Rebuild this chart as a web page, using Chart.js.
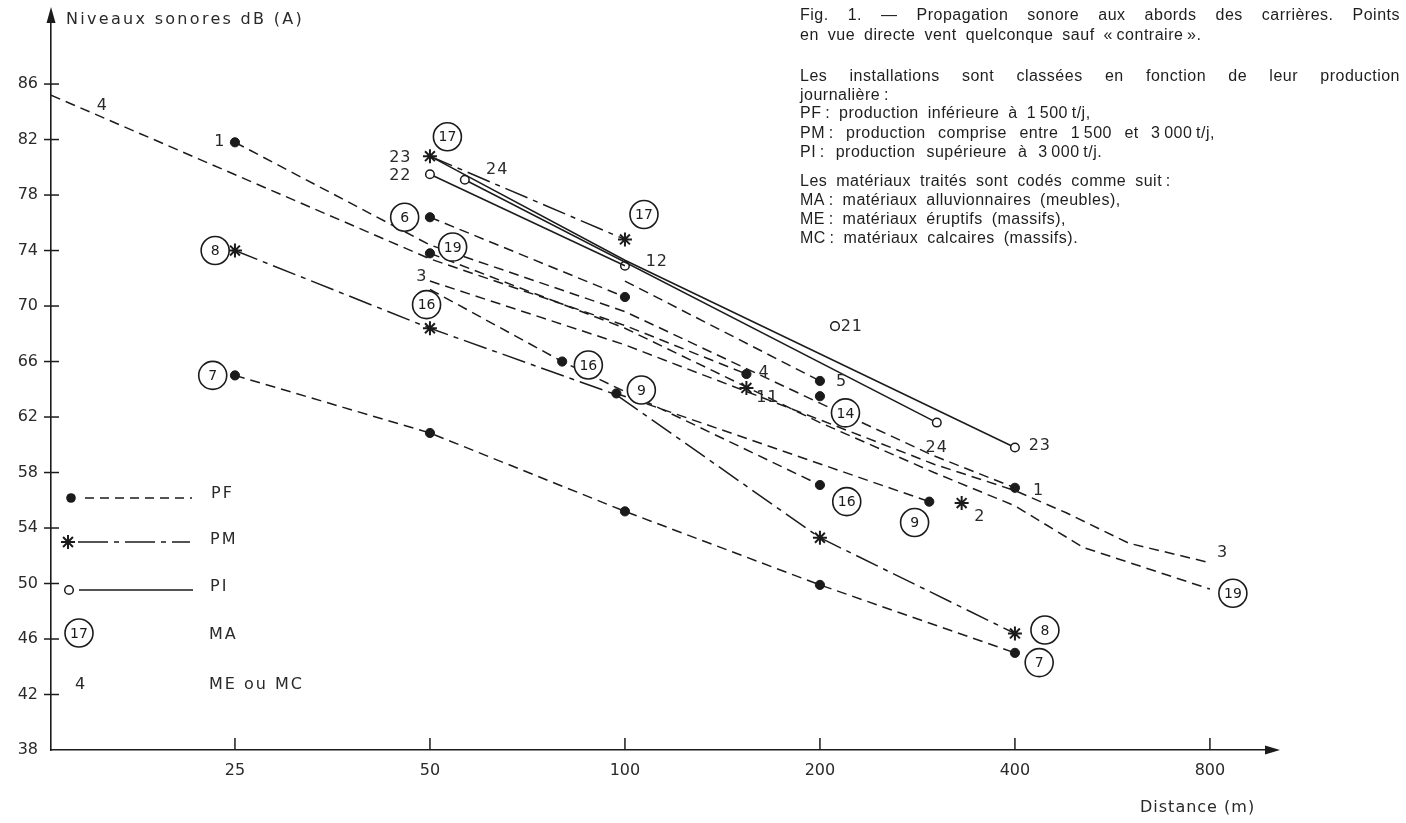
<!DOCTYPE html>
<html><head><meta charset="utf-8">
<script src="https://cdn.jsdelivr.net/npm/chart.js@4.4.1/dist/chart.umd.min.js"></script>
<style>
html,body{margin:0;padding:0;background:#fff;}
#wrap{position:relative;width:1406px;height:823px;overflow:hidden;}
#c{position:absolute;left:0;top:0;}
#note{position:absolute;left:0;top:0;width:1406px;height:300px;pointer-events:none;font-family:"Liberation Sans",Arial,sans-serif;font-size:16px;letter-spacing:0.5px;color:#1e1e1e;word-spacing:4px;}
#note div{position:absolute;left:800px;white-space:nowrap;line-height:20px;}
#note div.j{width:600px;text-align:justify;text-align-last:justify;white-space:normal;word-spacing:0;}
#note div.pm{width:415px;}
</style></head>
<body><div id="wrap"><canvas id="c" width="1406" height="823"></canvas>
<div id="note">
<div class="j" style="top:5px">Fig. 1. — Propagation sonore aux abords des carrières. Points</div>
<div style="top:25px">en vue directe vent quelconque sauf «&#8239;contraire&#8239;».</div>
<div class="j" style="top:66px">Les installations sont classées en fonction de leur production</div>
<div style="top:85px">journalière&#8239;:</div>
<div style="top:103px">PF&#8239;: production inférieure à 1&#8239;500&#8239;t/j,</div>
<div class="j pm" style="top:123px">PM&#8239;: production comprise entre 1&#8239;500 et 3&#8239;000&#8239;t/j,</div>
<div style="top:142px;word-spacing:6px">PI&#8239;: production supérieure à 3&#8239;000&#8239;t/j.</div>
<div style="top:171px">Les matériaux traités sont codés comme suit&#8239;:</div>
<div style="top:190px">MA&#8239;: matériaux alluvionnaires (meubles),</div>
<div style="top:209px">ME&#8239;: matériaux éruptifs (massifs),</div>
<div style="top:228px">MC&#8239;: matériaux calcaires (massifs).</div>
</div></div>
<script>
// ---- axes ----
const xTicks = [25, 50, 100, 200, 400, 800];
const yTicks = [38, 42, 46, 50, 54, 58, 62, 66, 70, 74, 78, 82, 86];

// ---- PF series (distance m, level dB(A), 1 = measured point) ----
const pf1_m = [25, 50, 100, 200, 300, 400];
const pf1_db = [81.8, 74.4, 69.6, 63.0, 59.2, 56.9];
const pf1_pt = [1, 0, 0, 0, 0, 1];
const pf3_m = [50, 100, 200, 300, 400, 480, 600, 800];
const pf3_db = [71.8, 67.2, 61.8, 58.6, 56.7, 55.1, 52.9, 51.5];
const pf3_pt = [0, 0, 0, 0, 0, 0, 0, 0];
const pf4_m = [13, 50, 100, 154];
const pf4_db = [85.2, 73.4, 68.6, 65.1];
const pf4_pt = [0, 0, 0, 1];
const pf5_m = [100, 200];
const pf5_db = [71.8, 64.6];
const pf5_pt = [0, 1];
const pf6_m = [50, 100];
const pf6_db = [76.4, 70.65];
const pf6_pt = [1, 1];
const pf7_m = [25, 50, 100, 200, 400];
const pf7_db = [65.0, 60.85, 55.2, 49.9, 45.0];
const pf7_pt = [1, 1, 1, 1, 1];
const pf9_m = [97, 295];
const pf9_db = [63.7, 55.9];
const pf9_pt = [1, 1];
const pf14_m = [200];
const pf14_db = [63.5];
const pf14_pt = [1];
const pf16_m = [50, 80, 200];
const pf16_db = [71.2, 66.0, 57.1];
const pf16_pt = [0, 1, 1];
const pf19_m = [50, 100, 200, 300, 400, 510, 800];
const pf19_db = [73.8, 68.4, 61.6, 58.0, 55.6, 52.6, 49.6];
const pf19_pt = [1, 0, 0, 0, 0, 0, 0];

// ---- PM series ----
const pm17_m = [50, 100];
const pm17_db = [80.8, 74.8];
const pm17_pt = [1, 1];
const pm8_m = [25, 50, 97, 200, 400];
const pm8_db = [74.0, 68.4, 63.6, 53.3, 46.4];
const pm8_pt = [1, 1, 0, 1, 1];
const pm11_m = [154];
const pm11_db = [64.1];
const pm11_pt = [1];
const pm2_m = [331];
const pm2_db = [55.8];
const pm2_pt = [1];

// ---- PI series ----
const pi23_m = [50, 100, 400];
const pi23_db = [80.8, 73.3, 59.8];
const pi23_pt = [0, 0, 1];
const pi22_m = [50, 100];
const pi22_db = [79.5, 72.9];
const pi22_pt = [1, 0];
const pi24_m = [56.6, 303];
const pi24_db = [79.1, 61.6];
const pi24_pt = [1, 1];
const pi12_m = [100];
const pi12_db = [72.9];
const pi12_pt = [1];
const pi21_m = [211];
const pi21_db = [68.55];
const pi21_pt = [1];

// ---- point labels: ME/MC (plain) and MA (circled), in data coordinates ----
const meText = ['4', '1', '23', '22', '24', '12', '3', '4', '11', '5', '21', '24', '23', '1', '2', '3'];
const meDist = [15.6, 23.7, 45, 45, 63.5, 112, 48.6, 164, 166, 216, 224, 303, 437, 435, 353, 837];
const meDb = [84.4, 81.8, 80.7, 79.4, 79.8, 73.2, 72.1, 65.2, 63.4, 64.5, 68.5, 59.8, 59.9, 56.7, 54.8, 52.2];
const maText = ['17', '6', '19', '8', '16', '7', '17', '16', '9', '14', '16', '9', '8', '7', '19'];
const maDist = [53.2, 45.7, 54.2, 23.3, 49.4, 23.1, 107, 87.8, 106, 219, 220, 280, 445, 436, 868];
const maDb = [82.2, 76.4, 74.25, 74.0, 70.1, 65.0, 76.6, 65.75, 63.95, 62.3, 55.9, 54.4, 46.65, 44.3, 49.3];

const INK = '#1b1b1b';
const STYLE = {
  PF: {borderDash: [10, 6], pointStyle: 'circle', pointBackgroundColor: INK, pointRadius: 4.6, pointBorderWidth: 1},
  PM: {borderDash: [24, 6, 5, 6], pointStyle: 'star', pointBackgroundColor: INK, pointRadius: 7, pointBorderWidth: 2},
  PI: {borderDash: [], pointStyle: 'circle', pointBackgroundColor: '#fff', pointRadius: 4.3, pointBorderWidth: 1.5}
};
function mk(kind, dist, db, pts) {
  const st = STYLE[kind];
  return {
    data: dist.map((x, i) => ({x: x, y: db[i]})),
    borderColor: INK, borderWidth: 1.5, borderDash: st.borderDash,
    showLine: dist.length > 1, tension: 0,
    pointStyle: st.pointStyle,
    pointRadius: pts.map(p => p ? st.pointRadius : 0),
    pointBackgroundColor: st.pointBackgroundColor,
    pointBorderColor: INK, pointBorderWidth: st.pointBorderWidth
  };
}
const datasets = [
  mk('PI', pi23_m, pi23_db, pi23_pt), mk('PI', pi22_m, pi22_db, pi22_pt), mk('PI', pi24_m, pi24_db, pi24_pt),
  mk('PI', pi12_m, pi12_db, pi12_pt), mk('PI', pi21_m, pi21_db, pi21_pt),
  mk('PM', pm17_m, pm17_db, pm17_pt), mk('PM', pm8_m, pm8_db, pm8_pt), mk('PM', pm11_m, pm11_db, pm11_pt), mk('PM', pm2_m, pm2_db, pm2_pt),
  mk('PF', pf1_m, pf1_db, pf1_pt), mk('PF', pf3_m, pf3_db, pf3_pt), mk('PF', pf4_m, pf4_db, pf4_pt),
  mk('PF', pf5_m, pf5_db, pf5_pt), mk('PF', pf6_m, pf6_db, pf6_pt), mk('PF', pf7_m, pf7_db, pf7_pt),
  mk('PF', pf9_m, pf9_db, pf9_pt), mk('PF', pf14_m, pf14_db, pf14_pt), mk('PF', pf16_m, pf16_db, pf16_pt),
  mk('PF', pf19_m, pf19_db, pf19_pt)
];

const LBL_FONT = '16px "DejaVu Sans", sans-serif';
function star(ctx, x, y, r) {
  ctx.beginPath();
  for (let k = 0; k < 4; k++) {
    const a = k * Math.PI / 4;
    ctx.moveTo(x - r * Math.cos(a), y - r * Math.sin(a));
    ctx.lineTo(x + r * Math.cos(a), y + r * Math.sin(a));
  }
  ctx.stroke();
}
function circled(ctx, txt, x, y) {
  ctx.beginPath(); ctx.arc(x, y, 14, 0, Math.PI * 2);
  ctx.fillStyle = '#fff'; ctx.fill();
  ctx.lineWidth = 1.6; ctx.strokeStyle = INK; ctx.stroke();
  ctx.fillStyle = INK; ctx.font = '14px "DejaVu Sans", sans-serif';
  ctx.textAlign = 'center'; ctx.textBaseline = 'middle';
  ctx.fillText(txt, x, y + 1);
}
const decor = {
  id: 'decor',
  afterDatasetsDraw(chart) {
    const ctx = chart.ctx, xs = chart.scales.x, ys = chart.scales.y, ca = chart.chartArea;
    ctx.save();
    ctx.strokeStyle = INK; ctx.fillStyle = INK; ctx.lineWidth = 1.5; ctx.setLineDash([]);
    // tick marks
    yTicks.forEach(v => { if (v === 38) return; const y = ys.getPixelForValue(v);
      ctx.beginPath(); ctx.moveTo(ca.left - 7, y); ctx.lineTo(ca.left + 8, y); ctx.stroke(); });
    xTicks.forEach(v => { const x = xs.getPixelForValue(v);
      ctx.beginPath(); ctx.moveTo(x, ca.bottom); ctx.lineTo(x, ca.bottom - 12); ctx.stroke(); });
    // arrows
    ctx.beginPath(); ctx.moveTo(ca.left, ca.top - 16); ctx.lineTo(ca.left - 4.5, ca.top); ctx.lineTo(ca.left + 4.5, ca.top); ctx.closePath(); ctx.fill();
    ctx.beginPath(); ctx.moveTo(ca.right + 15, ca.bottom); ctx.lineTo(ca.right, ca.bottom - 4.5); ctx.lineTo(ca.right, ca.bottom + 4.5); ctx.closePath(); ctx.fill();
    // axis titles
    ctx.font = LBL_FONT; ctx.fillStyle = '#2a2a2a'; ctx.textBaseline = 'middle'; ctx.textAlign = 'left';
    ctx.letterSpacing = '2.3px';
    ctx.fillText('Niveaux sonores dB (A)', ca.left + 15, 20);
    ctx.letterSpacing = '1px';
    ctx.fillText('Distance (m)', 1140, 808);
    // plain labels
    ctx.textAlign = 'center';
    meText.forEach((t, i) => ctx.fillText(t, xs.getPixelForValue(meDist[i]), ys.getPixelForValue(meDb[i])));
    ctx.letterSpacing = '0px';
    // circled labels
    maText.forEach((t, i) => circled(ctx, t, xs.getPixelForValue(maDist[i]), ys.getPixelForValue(maDb[i])));
    // legend
    const L = ca.left;
    ctx.strokeStyle = INK; ctx.fillStyle = INK; ctx.lineWidth = 1.5;
    ctx.setLineDash([9, 6]); ctx.beginPath(); ctx.moveTo(L + 34, 498); ctx.lineTo(L + 141, 498); ctx.stroke();
    ctx.setLineDash([]); ctx.beginPath(); ctx.arc(L + 20, 498, 4.8, 0, 7); ctx.fill();
    ctx.setLineDash([30, 6, 5, 6]); ctx.beginPath(); ctx.moveTo(L + 27, 542); ctx.lineTo(L + 139, 542); ctx.stroke();
    ctx.setLineDash([]); ctx.lineWidth = 2; star(ctx, L + 17, 542, 7); ctx.lineWidth = 1.5;
    ctx.beginPath(); ctx.moveTo(L + 28, 590); ctx.lineTo(L + 142, 590); ctx.stroke();
    ctx.beginPath(); ctx.arc(L + 18, 590, 4.3, 0, 7); ctx.fillStyle = '#fff'; ctx.fill(); ctx.stroke();
    circled(ctx, '17', L + 28, 633);
    ctx.font = LBL_FONT; ctx.fillStyle = '#2a2a2a'; ctx.textAlign = 'left'; ctx.textBaseline = 'middle';
    ctx.letterSpacing = '2px';
    ctx.fillText('4', L + 24, 685);
    ctx.fillText('PF', L + 160, 494);
    ctx.fillText('PM', L + 159, 540);
    ctx.fillText('PI', L + 159, 587);
    ctx.fillText('MA', L + 158, 635);
    ctx.fillText('ME ou MC', L + 158, 685);
    ctx.restore();
  }
};

new Chart(document.getElementById('c'), {
  type: 'line',
  data: {datasets: datasets},
  options: {
    responsive: false, animation: false, devicePixelRatio: 1,
    layout: {padding: {top: 23, right: 141, left: 0, bottom: 0}},
    plugins: {legend: {display: false}, tooltip: {enabled: false}},
    scales: {
      x: {
        type: 'logarithmic', min: 13, max: 973,
        grid: {display: false, drawTicks: false},
        border: {display: true, color: INK, width: 1.6},
        ticks: {font: {family: 'DejaVu Sans', size: 16}, color: '#2a2a2a', padding: 11, autoSkip: false, maxRotation: 0,
                callback: v => String(v)},
        afterBuildTicks: s => { s.ticks = xTicks.map(v => ({value: v})); },
        afterFit: s => { s.height = 73; }
      },
      y: {
        type: 'linear', min: 38, max: 90.4,
        grid: {display: false, drawTicks: false},
        border: {display: true, color: INK, width: 1.6},
        ticks: {font: {family: 'DejaVu Sans', size: 16}, color: '#2a2a2a', padding: 13, callback: v => String(v)},
        afterBuildTicks: s => { s.ticks = yTicks.map(v => ({value: v})); },
        afterFit: s => { s.width = 51; }
      }
    }
  },
  plugins: [decor]
});
</script>
</body></html>
